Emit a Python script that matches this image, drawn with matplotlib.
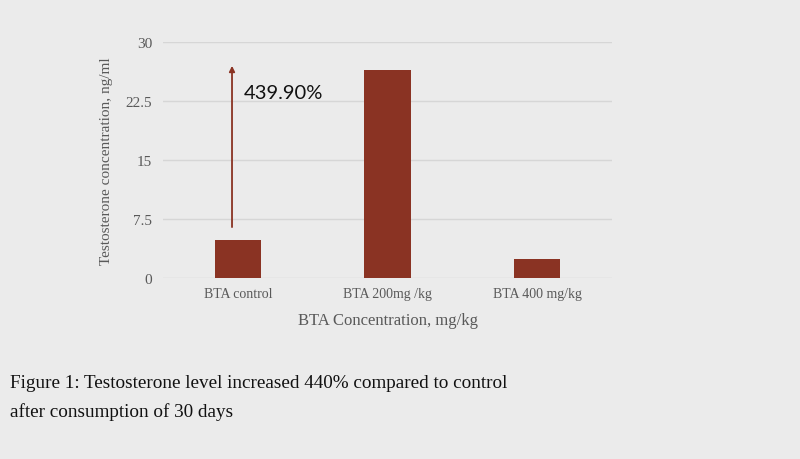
import matplotlib.pyplot as plt

# Data
categories = ["BTA control", "BTA 200mg /kg", "BTA 400 mg/kg"]
testosterone = [4.9, 26.5, 2.5]
y_ticks = [0, 7.5, 15, 22.5, 30]
y_tick_labels = ["0", "7.5", "15", "22.5", "30"]
increase_label = "439.90%"

bg = "#ebebeb"
bar_color = "#8a3323"
grid_color = "#d6d6d6"
text_gray = "#595959"
serif = ["Liberation Serif", "DejaVu Serif"]

fig = plt.figure(figsize=(8, 4.6), dpi=100, facecolor=bg)
ax = fig.add_axes([0.204, 0.393, 0.561, 0.513], facecolor=bg)

x = range(len(categories))
ax.bar(x, testosterone, width=0.31, color=bar_color, zorder=3)

ax.set_xlim(-0.5, 2.5)
ax.set_ylim(0, 30)
ax.set_yticks(y_ticks)
ax.set_yticklabels(y_tick_labels, family=serif, fontsize=11, color=text_gray)
ax.set_xticks(list(x))
ax.set_xticklabels(categories, family=serif, fontsize=10, color=text_gray)
ax.tick_params(length=0, pad=8)
ax.tick_params(axis="x", pad=6)
ax.grid(axis="y", color=grid_color, linewidth=1, zorder=0)
for s in ax.spines.values():
    s.set_visible(False)

ax.set_ylabel("Testosterone concentration, ng/ml", family=serif, fontsize=11,
              color=text_gray, labelpad=9)
ax.set_xlabel("BTA Concentration, mg/kg", family=serif, fontsize=12,
              color=text_gray, labelpad=9)

# arrow showing the increase
ax.annotate("", xy=(-0.04, 27.0), xytext=(-0.04, 6.5),
            arrowprops=dict(arrowstyle="-|>", color=bar_color, lw=1.3,
                            mutation_scale=8, shrinkA=0, shrinkB=0), zorder=4)
ax.text(0.04, 23.6, increase_label, fontsize=14.5, color="#111111",
        family="Lato", va="center", ha="left")

fig.text(0.012, 0.135, "Figure 1: Testosterone level increased 440% compared to control\n"
         "after consumption of 30 days", family=serif, fontsize=13.8,
         color="#111111", va="center", ha="left", linespacing=1.75)

fig.savefig("out.png", dpi=100, facecolor=bg)
